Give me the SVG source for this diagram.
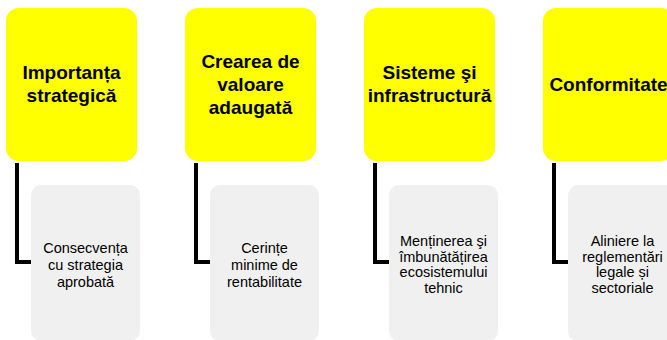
<svg xmlns="http://www.w3.org/2000/svg" width="667" height="340" viewBox="0 0 667 340">
<style>
.head{fill:#FFFF00;}
.sub{fill:#F0F0F0;}
.ht{font-family:"Liberation Sans",Arial,sans-serif;font-weight:bold;font-size:19px;fill:#000;text-anchor:middle;}
.st{font-family:"Liberation Sans",Arial,sans-serif;font-size:14.5px;fill:#000;text-anchor:middle;}
.conn{fill:none;stroke:#000;stroke-width:4;}
</style>
<rect width="667" height="340" fill="#fff"/>
<g id="connectors">
<path class="conn" d="M17,163 V262 H33"/>
<path class="conn" d="M196,163 V262 H212"/>
<path class="conn" d="M375,163 V262 H391"/>
<path class="conn" d="M554,163 V262 H570"/>
</g>
<g id="n1">
<rect class="head" x="6" y="8" width="131" height="153" rx="13"/>
<text class="ht" x="71.5" y="79">Importanța</text>
<text class="ht" x="71.5" y="102">strategică</text>
</g>
<g id="n1s">
<rect class="sub" x="31" y="185" width="109" height="156" rx="10"/>
<text class="st" x="85.5" y="253">Consecvența</text>
<text class="st" x="85.5" y="270">cu strategia</text>
<text class="st" x="85.5" y="287">aprobată</text>
</g>
<g id="n2">
<rect class="head" x="185" y="8" width="131" height="153" rx="13"/>
<text class="ht" x="250.5" y="68">Crearea de</text>
<text class="ht" x="250.5" y="91">valoare</text>
<text class="ht" x="250.5" y="114">adaugată</text>
</g>
<g id="n2s">
<rect class="sub" x="210" y="185" width="109" height="156" rx="10"/>
<text class="st" x="264.5" y="253">Cerințe</text>
<text class="st" x="264.5" y="270">minime de</text>
<text class="st" x="264.5" y="287">rentabilitate</text>
</g>
<g id="n3">
<rect class="head" x="364" y="8" width="131" height="153" rx="13"/>
<text class="ht" x="429.5" y="79">Sisteme şi</text>
<text class="ht" x="429.5" y="102">infrastructură</text>
</g>
<g id="n3s">
<rect class="sub" x="389" y="185" width="109" height="156" rx="10"/>
<text class="st" x="443.5" y="246">Menținerea şi</text>
<text class="st" x="443.5" y="261.5">îmbunătățirea</text>
<text class="st" x="443.5" y="277">ecosistemului</text>
<text class="st" x="443.5" y="292.5">tehnic</text>
</g>
<g id="n4">
<rect class="head" x="543" y="8" width="131" height="153" rx="13"/>
<text class="ht" x="608.5" y="91">Conformitate</text>
</g>
<g id="n4s">
<rect class="sub" x="568" y="185" width="109" height="156" rx="10"/>
<text class="st" x="622.5" y="246">Aliniere la</text>
<text class="st" x="622.5" y="261.5">reglementări</text>
<text class="st" x="622.5" y="277">legale și</text>
<text class="st" x="622.5" y="292.5">sectoriale</text>
</g>
</svg>
